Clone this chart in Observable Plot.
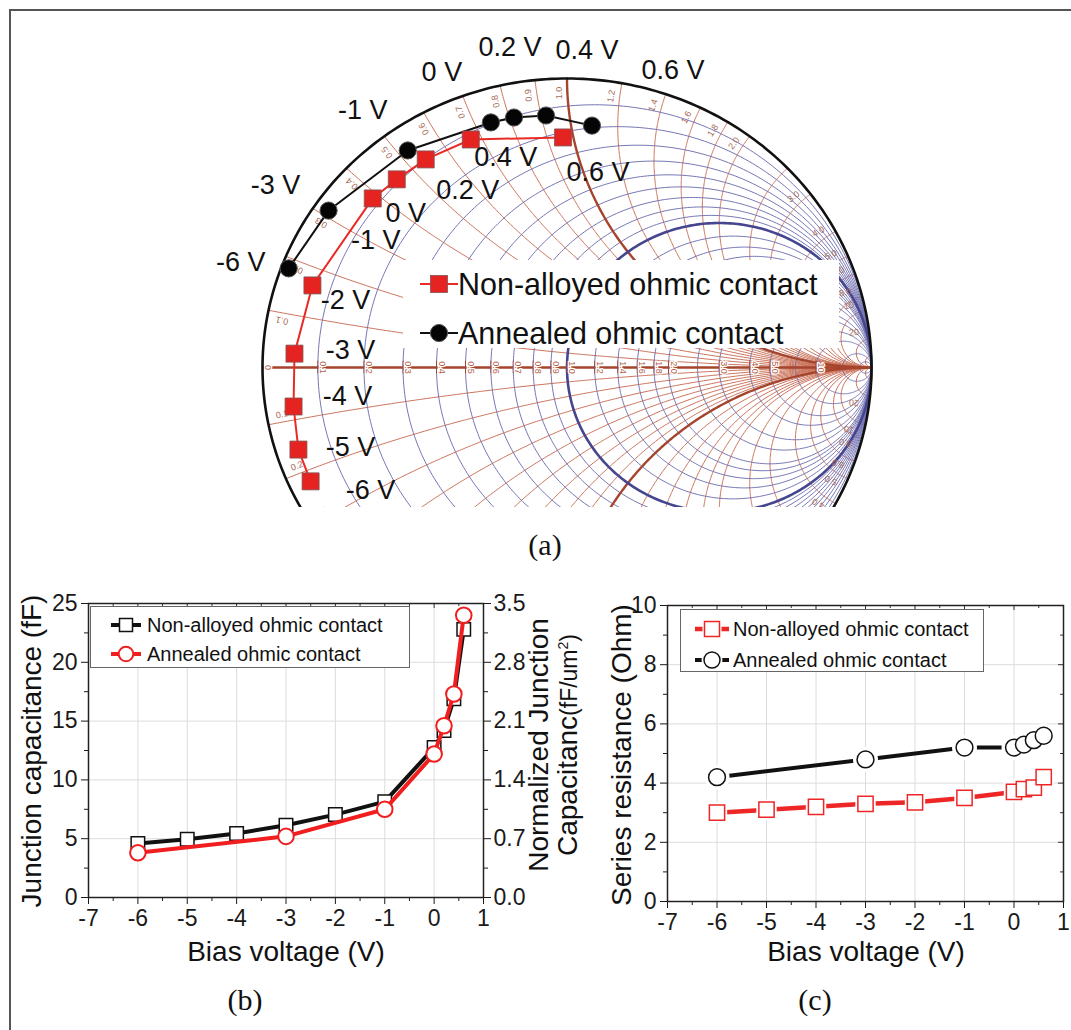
<!DOCTYPE html>
<html><head><meta charset="utf-8">
<script src="https://cdn.jsdelivr.net/npm/d3@7"></script>
<script src="https://cdn.jsdelivr.net/npm/@observablehq/plot@0.6"></script>
<style>
body{margin:0;background:#fff;}
#fig{position:relative;width:1071px;height:1030px;background:#fff;overflow:hidden;font-family:"Liberation Sans",Arial,sans-serif;color:#111;}
#fig svg{overflow:visible;}
</style></head><body><div id="fig"></div>
<script>
// ---------------- DATA ----------------
// (a) Smith chart: reflection coefficient (real, imaginary) per bias
const smithBiasNA = ["-6 V","-5 V","-4 V","-3 V","-2 V","-1 V","0 V","0.2 V","0.4 V","0.6 V"];
const gammaReNA   = [-0.842,-0.882,-0.898,-0.895,-0.836,-0.638,-0.559,-0.464,-0.316,-0.013];
const gammaImNA   = [-0.394,-0.284,-0.135, 0.048, 0.284, 0.585, 0.651, 0.720, 0.789, 0.796];
const smithBiasAN = ["-6 V","-3 V","-1 V","0 V","0.2 V","0.4 V","0.6 V"];
const gammaReAN   = [-0.914,-0.783,-0.523,-0.250,-0.174,-0.069, 0.082];
const gammaImAN   = [ 0.343, 0.543, 0.751, 0.848, 0.865, 0.872, 0.837];
const resistanceCircles = [0.1,0.2,0.3,0.4,0.5,0.6,0.7,0.8,0.9,1.0,1.2,1.4,1.6,1.8,2.0,2.5,3.0,4.0,5.0,7.0,10,20,50];
const reactanceArcs     = [0.1,0.2,0.3,0.4,0.5,0.6,0.7,0.8,0.9,1.0,1.2,1.4,1.6,1.8,2.0,2.5,3.0,4.0,5.0,6.0,8.0,10,20,50];
const realAxisLabels    = [0,0.1,0.2,0.3,0.4,0.5,0.6,0.7,0.8,0.9,1.0,1.2,1.4,1.6,1.8,2.0,3.0,4.0,5.0,10];
const rimLabels         = [0.1,0.2,0.3,0.4,0.5,0.6,0.7,0.8,0.9,1.0,1.2,1.4,1.6,1.8,2.0,3.0,4.0,5.0,6.0,8.0,10,20];

// (b) Junction capacitance (fF)
const biasNA = [-6,-5,-4,-3,-2,-1,0,0.2,0.4,0.6];
const capNA  = [4.6,4.95,5.45,6.15,7.05,8.15,12.75,14.2,16.9,22.8];
const biasAN = [-6,-3,-1,0,0.2,0.4,0.6];
const capAN  = [3.8,5.2,7.5,12.2,14.6,17.3,24.0];
const capTicks = [0,5,10,15,20,25];
const normCapTickLabels = ["0.0","0.7","1.4","2.1","2.8","3.5"];
const biasTicks = [-7,-6,-5,-4,-3,-2,-1,0,1];

// (c) Series resistance (Ohm)
const resNA = [3.0,3.1,3.2,3.3,3.35,3.5,3.7,3.8,3.85,4.2];
const resAN = [4.2,4.8,5.2,5.2,5.3,5.45,5.6];
const resTicks = [0,2,4,6,8,10];

const seriesNames = ["Non-alloyed ohmic contact","Annealed ohmic contact"];

// ---------------- HELPERS ----------------
const FONT = '"Liberation Sans", Arial, sans-serif';
const SERIF = '"Liberation Serif", "Times New Roman", serif';
const fig = document.getElementById("fig");
function put(el, left, top){ el.style.position="absolute"; el.style.left=left+"px"; el.style.top=top+"px"; fig.appendChild(el); return el; }
function label(html, cx, cy, size, rot=0, family=FONT){
  const d=document.createElement("div");
  d.innerHTML=html;
  d.style.cssText=`position:absolute;left:${cx}px;top:${cy}px;transform:translate(-50%,-50%) rotate(${rot}deg);white-space:nowrap;font-size:${size}px;font-family:${family};line-height:1.05;text-align:center;color:#111;`;
  fig.appendChild(d); return d;
}
function box(left, top, w, h, border){
  const d=document.createElement("div");
  d.style.cssText=`position:absolute;left:${left}px;top:${top}px;width:${w}px;height:${h}px;background:#fff;box-sizing:border-box;${border?`border:1.5px solid ${border};`:""}`;
  fig.appendChild(d); return d;
}
function legendRow(parent, x, y, sym, text, size){
  const s=document.createElement("div");
  s.style.cssText=`position:absolute;left:${x}px;top:${y-17}px;height:34px;display:flex;align-items:center;font-size:${size}px;font-family:${FONT};white-space:nowrap;color:#111;`;
  s.innerHTML=sym+`<span>${text}</span>`;
  parent.appendChild(s);
}

// ---------------- (a) SMITH CHART ----------------
const gammaOf=(a,b)=>{const d=(a+1)**2+b*b; return [(a*a+b*b-1)/d, 2*b/d];};
const rGrid = resistanceCircles.flatMap(r=>d3.range(0,361).map(k=>{const c=r/(1+r),R=1/(1+r),t=k*Math.PI/180;return {id:r,u:c+R*Math.cos(t),v:R*Math.sin(t)};}));
const xGrid = reactanceArcs.flatMap(x=>[x,-x]).flatMap(x=>d3.range(0,241).map(k=>{const a=k===240?1e9:Math.tan(k/240*Math.PI/2);const [u,v]=gammaOf(a,x);return {id:x,u,v};}));
const rim = d3.range(0,361).map(k=>({u:Math.cos(k*Math.PI/180),v:Math.sin(k*Math.PI/180)}));
const realLab = realAxisLabels.map(r=>({t: r>=10?String(r):r.toFixed(1), u:(r-1)/(r+1), v:0}));
realLab[0].t="0";
const rimLab = rimLabels.flatMap(x=>{
  const phi=Math.PI-2*Math.atan(x), t=x>=10?String(x):x.toFixed(1), rr=0.95, o=0.028;
  return [{t,u:rr*Math.cos(phi+o),v:rr*Math.sin(phi+o),rot:-phi*180/Math.PI},
          {t,u:rr*Math.cos(-phi-o),v:rr*Math.sin(-phi-o),rot:180+phi*180/Math.PI}];
});
const na = gammaReNA.map((u,i)=>({u,v:gammaImNA[i],t:smithBiasNA[i]}));
const an = gammaReAN.map((u,i)=>({u,v:gammaImAN[i],t:smithBiasAN[i]}));
const offNA=[[60,9],[52,-2],[54,-10],[56,-3],[33,15],[3,42],[9,34],[42,31],[35,18],[35,35]];
const offAN=[[-48,-6],[-53,-25],[-45,-40],[-49,-50],[-4,-70],[41,-65],[81,-55]];
const RED_G="#c86c52", BLUE_G="#6f6fb0";
const smith = Plot.plot({
  width:1071, height:530, margin:0, marginBottom:23,
  x:{domain:[-1,1], range:[262,871], axis:null},
  y:{domain:[-1,1], range:[656,78], axis:null},
  style:{fontFamily:FONT, background:"transparent"},
  marks:[
    Plot.line(xGrid.filter(d=>Math.abs(d.id)!==1),{x:"u",y:"v",z:"id",stroke:RED_G,strokeWidth:0.95,clip:true}),
    Plot.line(rGrid.filter(d=>d.id!==1),{x:"u",y:"v",z:"id",stroke:BLUE_G,strokeWidth:0.95,clip:true}),
    Plot.line(xGrid.filter(d=>Math.abs(d.id)===1),{x:"u",y:"v",z:"id",stroke:"#a5452d",strokeWidth:2.4,clip:true}),
    Plot.line(rGrid.filter(d=>d.id===1),{x:"u",y:"v",z:"id",stroke:"#464690",strokeWidth:2.6,clip:true}),
    Plot.ruleY([0],{x1:-1,x2:1,stroke:"#a5452d",strokeWidth:2.6}),
    Plot.ruleX(realLab,{x:"u",y1:-0.022,y2:0.022,stroke:"#a5452d",strokeWidth:1}),
    Plot.text(realLab,{x:"u",y:"v",text:"t",rotate:90,dx:5,fontSize:9,fill:"#b0604a",stroke:"white",strokeWidth:2.5}),
    Plot.text(rimLab,{x:"u",y:"v",text:"t",rotate:"rot",fontSize:9,fill:"#a86a55",clip:true}),
    Plot.line(rim,{x:"u",y:"v",stroke:"#111",strokeWidth:2.6,clip:true}),
    Plot.line(na,{x:"u",y:"v",stroke:"#ea2b25",strokeWidth:2}),
    Plot.line(an,{x:"u",y:"v",stroke:"#111",strokeWidth:2}),
    Plot.dot(na,{x:"u",y:"v",symbol:"square",r:9.6,fill:"#e52421",stroke:"#7d5555",strokeWidth:0.8}),
    Plot.dot(an,{x:"u",y:"v",r:8.6,fill:"#050505",stroke:"#555",strokeWidth:1}),
    ...na.map((d,i)=>Plot.text([d],{x:"u",y:"v",text:"t",dx:offNA[i][0],dy:offNA[i][1],fontSize:27,fill:"#111"})),
    ...an.map((d,i)=>Plot.text([d],{x:"u",y:"v",text:"t",dx:offAN[i][0],dy:offAN[i][1],fontSize:27,fill:"#111"}))
  ]
});
put(smith,0,0);
// legend (a)
{
  const b=box(403,260,436,88,null);
  legendRow(b,17,24,`<svg width="38" height="30"><line x1="0" y1="15" x2="38" y2="15" stroke="#ea2b25" stroke-width="2"/><rect x="10.5" y="6.5" width="17" height="17" fill="#e52421" stroke="#7d5555" stroke-width="0.8"/></svg>`,seriesNames[0],30.5);
  legendRow(b,17,73,`<svg width="38" height="30"><line x1="0" y1="15" x2="38" y2="15" stroke="#111" stroke-width="2"/><circle cx="19" cy="15" r="8.6" fill="#050505" stroke="#555"/></svg>`,seriesNames[1],30.5);
}
label("(a)",545,545,30,0,SERIF);

// ---------------- (b) CAPACITANCE ----------------
function frameTicks(xTicks, xMinor, yTicks, yMinor, xd, yd, hpx, wpx, insideTop, insideRight){
  const ly=5*(yd[1]-yd[0])/hpx, lx=5*(xd[1]-xd[0])/wpx;
  const m=[];
  if(insideTop) m.push(Plot.ruleX(xTicks.concat(xMinor),{x:d=>d,y1:yd[1],y2:d=>yd[1]-(xTicks.includes(d)?ly:ly*0.6),stroke:"#333",strokeWidth:1}));
  if(insideRight) m.push(Plot.ruleY(yTicks.concat(yMinor),{y:d=>d,x1:xd[1],x2:d=>xd[1]-(yTicks.includes(d)?lx:lx*0.6),stroke:"#333",strokeWidth:1}));
  return m;
}
const bNA=biasNA.map((b,i)=>({b,v:capNA[i]}));
const bAN=biasAN.map((b,i)=>({b,v:capAN[i]}));
const xMinor=d3.range(-6.5,1,1);
const capMinor=d3.range(2.5,25,5);
const plotB = Plot.plot({
  width:590, height:400, marginLeft:88, marginRight:107, marginTop:23, marginBottom:83,
  style:{fontFamily:FONT, fontSize:"23px", background:"transparent", color:"#1a1a1a"},
  x:{domain:[-7,1], axis:null}, y:{domain:[0,25], axis:null},
  marks:[
    Plot.gridX({ticks:biasTicks.slice(1,-1),stroke:"#dcdcdc",strokeOpacity:1}),
    Plot.gridY({ticks:capTicks.slice(1,-1),stroke:"#dcdcdc",strokeOpacity:1}),
    Plot.axisX({ticks:biasTicks,tickSize:7,tickPadding:5,tickFormat:d=>String(d),label:null}),
    Plot.axisX({ticks:xMinor,tickSize:4,tickFormat:()=>"",label:null}),
    Plot.axisY({anchor:"left",ticks:capTicks,tickSize:7,tickPadding:4,tickFormat:d=>String(d),label:null}),
    Plot.axisY({anchor:"left",ticks:capMinor,tickSize:4,tickFormat:()=>"",label:null}),
    Plot.axisY({anchor:"right",ticks:capTicks,tickSize:7,tickPadding:3,tickFormat:d=>normCapTickLabels[capTicks.indexOf(d)],label:null}),
    Plot.axisY({anchor:"right",ticks:capMinor,tickSize:4,tickFormat:()=>"",label:null}),
    ...frameTicks(biasTicks,xMinor,capTicks,capMinor,[-7,1],[0,25],294,395,true,false),
    Plot.frame({stroke:"#222",strokeWidth:1.5}),
    Plot.line(bNA,{x:"b",y:"v",stroke:"#111",strokeWidth:4}),
    Plot.dot(bNA,{x:"b",y:"v",symbol:"square",r:7.6,fill:"white",stroke:"#111",strokeWidth:1.5}),
    Plot.line(bAN,{x:"b",y:"v",stroke:"#f01e1e",strokeWidth:4}),
    Plot.dot(bAN,{x:"b",y:"v",r:7.8,fill:"white",stroke:"#f01e1e",strokeWidth:2})
  ]
});
put(plotB,0,580);
{
  const b=box(90,606,320,62,"#666");
  legendRow(b,20,18,`<svg width="30" height="30" style="margin-right:6px"><line x1="0" y1="15" x2="30" y2="15" stroke="#111" stroke-width="4"/><rect x="8.5" y="8.5" width="13" height="13" fill="#fff" stroke="#111" stroke-width="1.5"/></svg>`,seriesNames[0],20);
  legendRow(b,20,47,`<svg width="30" height="30" style="margin-right:6px"><line x1="0" y1="15" x2="30" y2="15" stroke="#f01e1e" stroke-width="4"/><circle cx="15" cy="15" r="7.3" fill="#fff" stroke="#f01e1e" stroke-width="2"/></svg>`,seriesNames[1],20);
}
label("Junction capacitance (fF)",32,751,28,-90);
label("Bias voltage (V)",286,952,28);
label(`Normalized Junction<br>Capacitanc<span style="font-size:23px">(fF/um<sup style="font-size:14px">2</sup>)</span>`,553,745,28,-90);
label("(b)",245,1000,30,0,SERIF);

// ---------------- (c) SERIES RESISTANCE ----------------
const cNA=biasNA.map((b,i)=>({b,v:resNA[i]}));
const cAN=biasAN.map((b,i)=>({b,v:resAN[i]}));
const resMinor=d3.range(1,10,2);
const plotC = Plot.plot({
  width:500, height:400, marginLeft:96, marginRight:8, marginTop:25, marginBottom:79,
  style:{fontFamily:FONT, fontSize:"23px", background:"transparent", color:"#1a1a1a"},
  x:{domain:[-7,1], axis:null}, y:{domain:[0,10], axis:null},
  marks:[
    Plot.gridX({ticks:biasTicks.slice(1,-1),stroke:"#dcdcdc",strokeOpacity:1}),
    Plot.gridY({ticks:resTicks.slice(1,-1),stroke:"#dcdcdc",strokeOpacity:1}),
    Plot.axisX({ticks:biasTicks,tickSize:7,tickPadding:5,tickFormat:d=>String(d),label:null}),
    Plot.axisX({ticks:xMinor,tickSize:4,tickFormat:()=>"",label:null}),
    Plot.axisY({anchor:"left",ticks:resTicks,tickSize:7,tickPadding:4,tickFormat:d=>String(d),label:null}),
    Plot.axisY({anchor:"left",ticks:resMinor,tickSize:4,tickFormat:()=>"",label:null}),
    ...frameTicks(biasTicks,xMinor,resTicks,resMinor,[-7,1],[0,10],296,396,true,true),
    Plot.frame({stroke:"#222",strokeWidth:1.5}),
    Plot.line(cAN,{x:"b",y:"v",stroke:"#111",strokeWidth:4}),
    Plot.line(cNA,{x:"b",y:"v",stroke:"#ee2626",strokeWidth:4.5}),
    Plot.dot(cAN,{x:"b",y:"v",r:12.5,fill:"white"}),
    Plot.dot(cNA,{x:"b",y:"v",symbol:"square",r:11.5,fill:"white"}),
    Plot.dot(cAN,{x:"b",y:"v",r:8.4,fill:"white",stroke:"#111",strokeWidth:1.5}),
    Plot.dot(cNA,{x:"b",y:"v",symbol:"square",r:8.6,fill:"white",stroke:"#ee2626",strokeWidth:1.5})
  ]
});
put(plotC,571,580);
{
  const b=box(680,609,304,63,"#666");
  legendRow(b,14,19,`<svg width="34" height="30" style="margin-right:4px"><line x1="0" y1="15" x2="34" y2="15" stroke="#ee2626" stroke-width="4.5"/><rect x="9" y="7" width="16" height="16" fill="#fff" stroke="#fff" stroke-width="3"/><rect x="9.5" y="7.5" width="15" height="15" fill="#fff" stroke="#ee2626" stroke-width="1.5"/></svg>`,seriesNames[0],20);
  legendRow(b,14,50,`<svg width="34" height="30" style="margin-right:4px"><line x1="0" y1="15" x2="34" y2="15" stroke="#111" stroke-width="4"/><circle cx="17" cy="15" r="9" fill="#fff" stroke="#fff" stroke-width="3"/><circle cx="17" cy="15" r="8" fill="#fff" stroke="#111" stroke-width="1.5"/></svg>`,seriesNames[1],20);
}
label("Series resistance (Ohm)",622,755,28,-90);
label("Bias voltage (V)",866,952,28);
label("(c)",815,1000,30,0,SERIF);

// outer figure border (left & top)
{
  const l=document.createElement("div"); l.style.cssText="position:absolute;left:9px;top:9px;width:2px;height:1030px;background:#555;"; fig.appendChild(l);
  const t=document.createElement("div"); t.style.cssText="position:absolute;left:9px;top:9px;width:1062px;height:2px;background:#555;"; fig.appendChild(t);
}
</script></body></html>
